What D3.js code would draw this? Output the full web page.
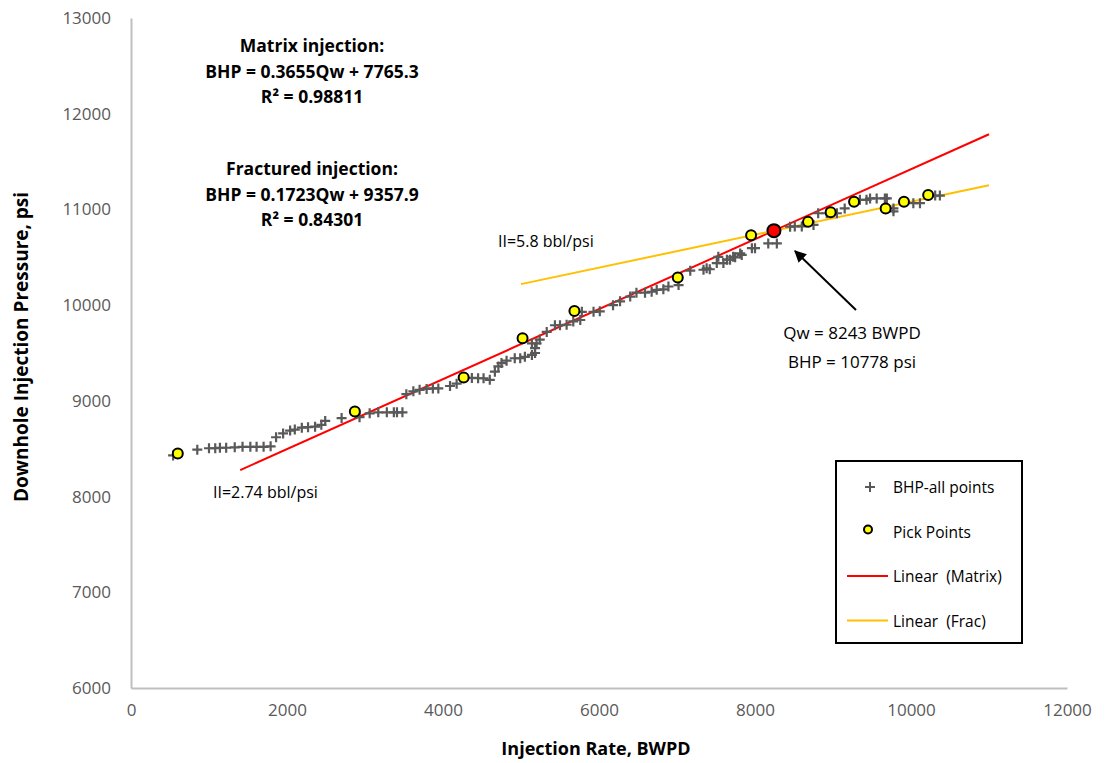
<!DOCTYPE html>
<html>
<head>
<meta charset="utf-8">
<script src="https://cdn.jsdelivr.net/npm/d3@7"></script>
<style>
  body { margin: 0; background: #fff; }
  svg text { font-family: "Open Sans", "Noto Sans", sans-serif; white-space: pre; }
</style>
</head>
<body>
<div id="chart"></div>
<script>
var width = 1110;
var height = 763;

// all BHP readings: rate (BWPD) and pressure (psi)
var bhpRate = [540, 850, 1000, 1080, 1140, 1220, 1330, 1430, 1530, 1610, 1700, 1790,
    1860, 1950, 2040, 2100, 2190, 2270, 2360, 2440, 2490, 2700, 2930, 3060, 3170, 3280, 3370, 3410, 3480,
    3530, 3620, 3700, 3790, 3870, 3940, 4090, 4175, 4370, 4450, 4520, 4600, 4665, 4710, 4750, 4815, 4920,
    4990, 5050, 5140, 5180, 5180, 5200, 5140, 5240, 5330, 5435, 5500, 5585, 5670, 5760,
    5780, 5930, 6010, 6180, 6270, 6400, 6480, 6590, 6675, 6740, 6825, 6890, 7020, 7170, 7340, 7380,
    7420, 7510, 7530, 7595, 7640, 7680, 7720, 7745, 7810, 7830, 7960, 8000, 8170, 8280, 8243,
    8450, 8510, 8600, 8750, 8810, 8920, 9050, 9150, 9345, 9430, 9475, 9560, 9665, 9690, 9775, 9775,
    10030, 10115, 10310, 10370];
var bhpPressure = [8430, 8490, 8505, 8505, 8510, 8510, 8515, 8520, 8520, 8520, 8520, 8525,
    8620, 8660, 8690, 8700, 8720, 8725, 8730, 8750, 8790, 8820, 8830, 8870, 8880, 8880, 8880, 8880, 8880,
    9070, 9100, 9115, 9125, 9130, 9130, 9155, 9180, 9240, 9236, 9236, 9220, 9305, 9360, 9395, 9420, 9445,
    9445, 9460, 9480, 9500, 9550, 9600, 9600, 9640, 9720, 9790, 9790, 9795, 9830, 9845,
    9930, 9930, 9935, 10000, 10040, 10090, 10130, 10130, 10140, 10160, 10165, 10195, 10210, 10360, 10370, 10385,
    10375, 10440, 10505, 10440, 10475, 10475, 10505, 10500, 10540, 10525, 10595, 10595, 10645, 10645, 10778,
    10820, 10822, 10822, 10838, 10960, 10960, 10960, 11010, 11100, 11100, 11115, 11115, 11115, 11115, 11010, 10980,
    11065, 11065, 11145, 11145];

// picked points
var pickRate = [600, 2870, 4265, 5020, 5685, 7010, 7950, 8680, 8970, 9270, 9675, 9910, 10220];
var pickPressure = [8450, 8890, 9245, 9655, 9940, 10290, 10730, 10870, 10970, 11080, 11010, 11080, 11150];

// intersection of the two trends
var breakPoint = [8243, 10778];

// trend lines: slope, intercept, x range
var matrixFit = { slope: 0.3655, intercept: 7765.3, from: 1400, to: 11000 };
var fracFit = { slope: 0.1723, intercept: 9357.9, from: 5000, to: 11000 };

var xTicks = [0, 2000, 4000, 6000, 8000, 10000, 12000];
var yTicks = [6000, 7000, 8000, 9000, 10000, 11000, 12000, 13000];

var plot = { left: 131, right: 1067, top: 18, bottom: 688 };

var svg = d3.select("#chart").append("svg")
    .attr("width", width)
    .attr("height", height);

var x = d3.scaleLinear().domain([0, 12000]).range([plot.left, plot.right]);
var y = d3.scaleLinear().domain([6000, 13000]).range([plot.bottom, plot.top]);

// axes
var xAxis = svg.append("g")
    .attr("transform", "translate(0," + plot.bottom + ")")
    .call(d3.axisBottom(x).tickValues(xTicks).tickSize(0).tickPadding(22).tickFormat(d3.format("d")));
var yAxis = svg.append("g")
    .attr("transform", "translate(" + plot.left + ",0)")
    .call(d3.axisLeft(y).tickValues(yTicks).tickSize(0).tickPadding(20).tickFormat(d3.format("d")));

[xAxis, yAxis].forEach(function (ax) {
    ax.select(".domain").attr("stroke", "#bfbfbf").attr("stroke-width", 2);
    ax.selectAll("text").attr("fill", "#595959").attr("font-size", "17px")
        .style("font-family", "'Open Sans', sans-serif");
});
xAxis.selectAll("text").attr("dy", "0.35em");

// axis titles
svg.append("text")
    .attr("x", 596).attr("y", 755)
    .attr("text-anchor", "middle")
    .attr("font-size", "18px").attr("font-weight", "bold")
    .text("Injection Rate, BWPD");
svg.append("text")
    .attr("transform", "translate(28,347) rotate(-90)")
    .attr("text-anchor", "middle")
    .attr("font-size", "19px").attr("font-weight", "bold")
    .text("Downhole Injection Pressure, psi");

// trend lines
function trend(fit) {
    return [[fit.from, fit.slope * fit.from + fit.intercept], [fit.to, fit.slope * fit.to + fit.intercept]];
}
var line = d3.line().x(d => x(d[0])).y(d => y(d[1]));
svg.append("path").datum(trend(matrixFit)).attr("d", line)
    .attr("fill", "none").attr("stroke", "#ff0000").attr("stroke-width", 2);
svg.append("path").datum(trend(fracFit)).attr("d", line)
    .attr("fill", "none").attr("stroke", "#ffc000").attr("stroke-width", 2);

// all points as "+" markers
var cross = "M-5,0H5M0,-5V5";
svg.append("g").selectAll("path")
    .data(d3.zip(bhpRate, bhpPressure)).enter().append("path")
    .attr("transform", d => "translate(" + x(d[0]) + "," + y(d[1]) + ")")
    .attr("d", cross)
    .attr("stroke", "#595959").attr("stroke-width", 2.2).attr("fill", "none");

// pick points
svg.append("g").selectAll("circle")
    .data(d3.zip(pickRate, pickPressure)).enter().append("circle")
    .attr("cx", d => x(d[0])).attr("cy", d => y(d[1]))
    .attr("r", 5).attr("fill", "#ffff00").attr("stroke", "#000").attr("stroke-width", 2);

svg.append("circle")
    .attr("cx", x(breakPoint[0])).attr("cy", y(breakPoint[1]))
    .attr("r", 6.5).attr("fill", "#ff0000").attr("stroke", "#000").attr("stroke-width", 2);

// equations
function block(lines, cx, cy) {
    lines.forEach(function (t, i) {
        svg.append("text")
            .attr("x", cx).attr("y", cy + i * 25.5)
            .attr("text-anchor", "middle")
            .attr("font-size", "17.5px").attr("font-weight", "bold")
            .text(t);
    });
}
block(["Matrix injection:", "BHP = 0.3655Qw + 7765.3", "R\u00b2 = 0.98811"], 312, 52);
block(["Fractured injection:", "BHP = 0.1723Qw + 9357.9", "R\u00b2 = 0.84301"], 312, 175);

// index labels
svg.append("text").attr("x", 498).attr("y", 247).attr("font-size", "16px").text("II=5.8 bbl/psi");
svg.append("text").attr("x", 213).attr("y", 498).attr("font-size", "16px").text("II=2.74 bbl/psi");

// break point note with arrow
svg.append("defs").append("marker")
    .attr("id", "head").attr("viewBox", "0 0 10 10")
    .attr("refX", 9).attr("refY", 5)
    .attr("markerWidth", 6).attr("markerHeight", 6)
    .attr("orient", "auto")
    .append("path").attr("d", "M0,0L10,5L0,10Z").attr("fill", "#000");
svg.append("line")
    .attr("x1", 856).attr("y1", 310).attr("x2", 795).attr("y2", 251)
    .attr("stroke", "#000").attr("stroke-width", 2)
    .attr("marker-end", "url(#head)");
svg.append("text").attr("x", 852).attr("y", 339).attr("text-anchor", "middle")
    .attr("font-size", "17px").text("Qw = 8243 BWPD");
svg.append("text").attr("x", 852).attr("y", 368).attr("text-anchor", "middle")
    .attr("font-size", "17px").text("BHP = 10778 psi");

// legend
var legend = svg.append("g");
legend.append("rect")
    .attr("x", 836).attr("y", 461).attr("width", 186).attr("height", 182)
    .attr("fill", "#fff").attr("stroke", "#000").attr("stroke-width", 2);
var items = ["BHP-all points", "Pick Points", "Linear  (Matrix)", "Linear  (Frac)"];
items.forEach(function (t, i) {
    var cy = 487 + i * 44.5;
    legend.append("text").attr("x", 893).attr("y", cy + 6).attr("font-size", "15.5px").text(t);
    if (i === 0) {
        legend.append("path").attr("transform", "translate(870," + cy + ")").attr("d", cross)
            .attr("stroke", "#595959").attr("stroke-width", 2);
    } else if (i === 1) {
        legend.append("circle").attr("cx", 868).attr("cy", cy - 2).attr("r", 4)
            .attr("fill", "#ffff00").attr("stroke", "#000").attr("stroke-width", 2);
    } else {
        legend.append("line").attr("x1", 847).attr("x2", 888).attr("y1", cy).attr("y2", cy)
            .attr("stroke", i === 2 ? "#ff0000" : "#ffc000").attr("stroke-width", 2);
    }
});
</script>
</body>
</html>
